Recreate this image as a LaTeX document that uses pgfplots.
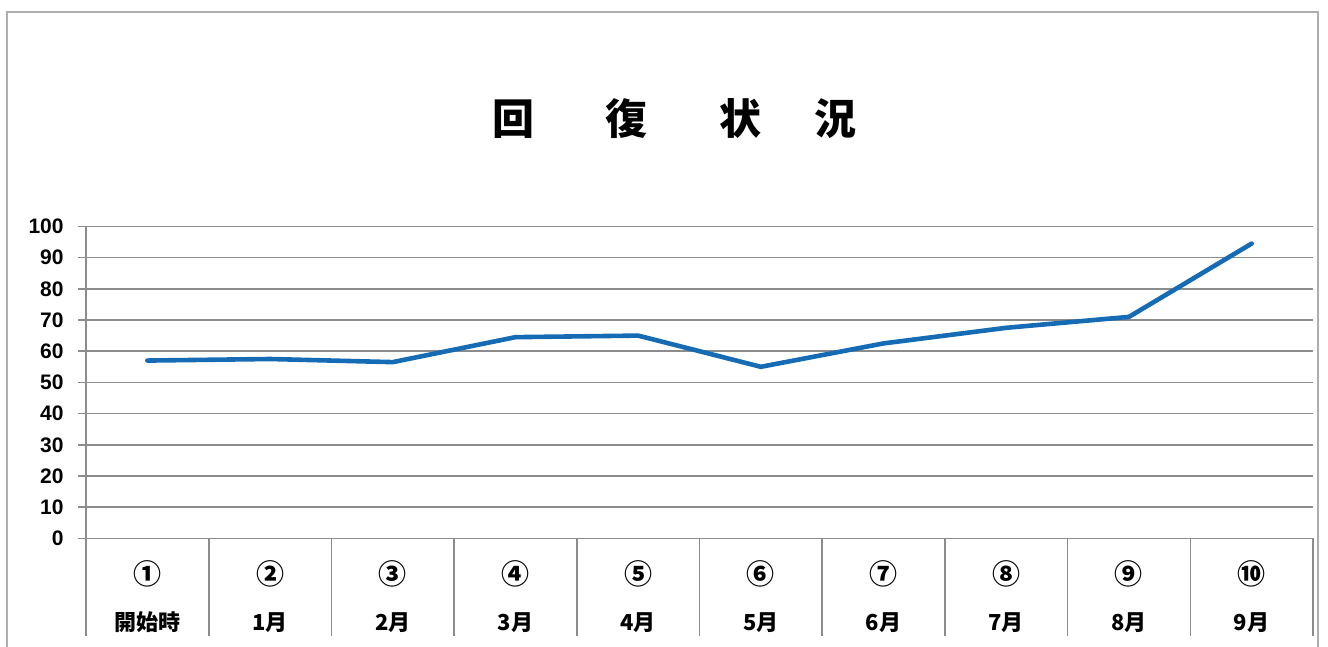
\documentclass[border=0pt]{standalone}
\usepackage{pgfplots}
\pgfplotsset{compat=1.18}
\usepackage{fontspec}
\setmainfont{Liberation Sans}
\newfontfamily\cjk{Noto Sans CJK JP}
\definecolor{lineblue}{RGB}{22,108,180}
\definecolor{gridgray}{RGB}{140,140,140}
\newcommand{\cn}[1]{{\fontsize{14}{14}\selectfont #1}}
\begin{document}
\begin{tikzpicture}
\useasboundingbox (0pt,0pt) rectangle (664pt,-323.5pt);
\draw[gridgray!70, line width=0.8pt] (3.5pt,-350pt) -- (3.5pt,-6pt) -- (659pt,-6pt) -- (659pt,-350pt);
\begin{axis}[
  at={(43pt,-269.2pt)}, anchor=south west,
  scale only axis, width=613.5pt, height=156pt,
  xmin=0.5, xmax=10.5, ymin=0, ymax=100,
  axis lines=left, axis line style={-, gridgray, line width=0.8pt},
  ymajorgrids, grid style={gridgray, line width=0.8pt},
  ytick={0,10,...,100},
  tick align=outside, major tick length=4pt,
  tick style={gridgray, line width=0.8pt},
  xtick={1,...,10},
  xticklabels={{\cn{①}\\開始時},{\cn{②}\\1月},{\cn{③}\\2月},{\cn{④}\\3月},{\cn{⑤}\\4月},{\cn{⑥}\\5月},{\cn{⑦}\\6月},{\cn{⑧}\\7月},{\cn{⑨}\\8月},{\cn{⑩}\\9月}},
  xtick style={draw=none},
  xticklabel style={font=\cjk\bfseries\fontsize{11}{23}\selectfont, align=center, anchor=north, inner sep=0pt, yshift=-7pt},
  yticklabel style={font=\bfseries\fontsize{10.5}{12}\selectfont, anchor=east, inner sep=0pt, xshift=-7pt},
  /pgf/number format/assume math mode=true,
  title={\cjk\bfseries\fontsize{21}{24}\selectfont 回\hspace{36pt}復\hspace{36pt}状\hspace{26.5pt}況},
  title style={at={(0.5,1)}, anchor=center, yshift=48pt, xshift=-12.5pt},
  clip=false,
]
\pgfplotsinvokeforeach{0.5,1.5,...,10.5}{
  \draw[gridgray, line width=0.8pt] (axis cs:#1,0) -- ++(0pt,-49pt);
}
\addplot[lineblue, line width=2.3pt, line join=round, line cap=round] coordinates {
(1,57) (2,57.5) (3,56.5) (4,64.5) (5,65) (6,55) (7,62.5) (8,67.5) (9,71) (10,94.5)
};
\end{axis}
\end{tikzpicture}
\end{document}
